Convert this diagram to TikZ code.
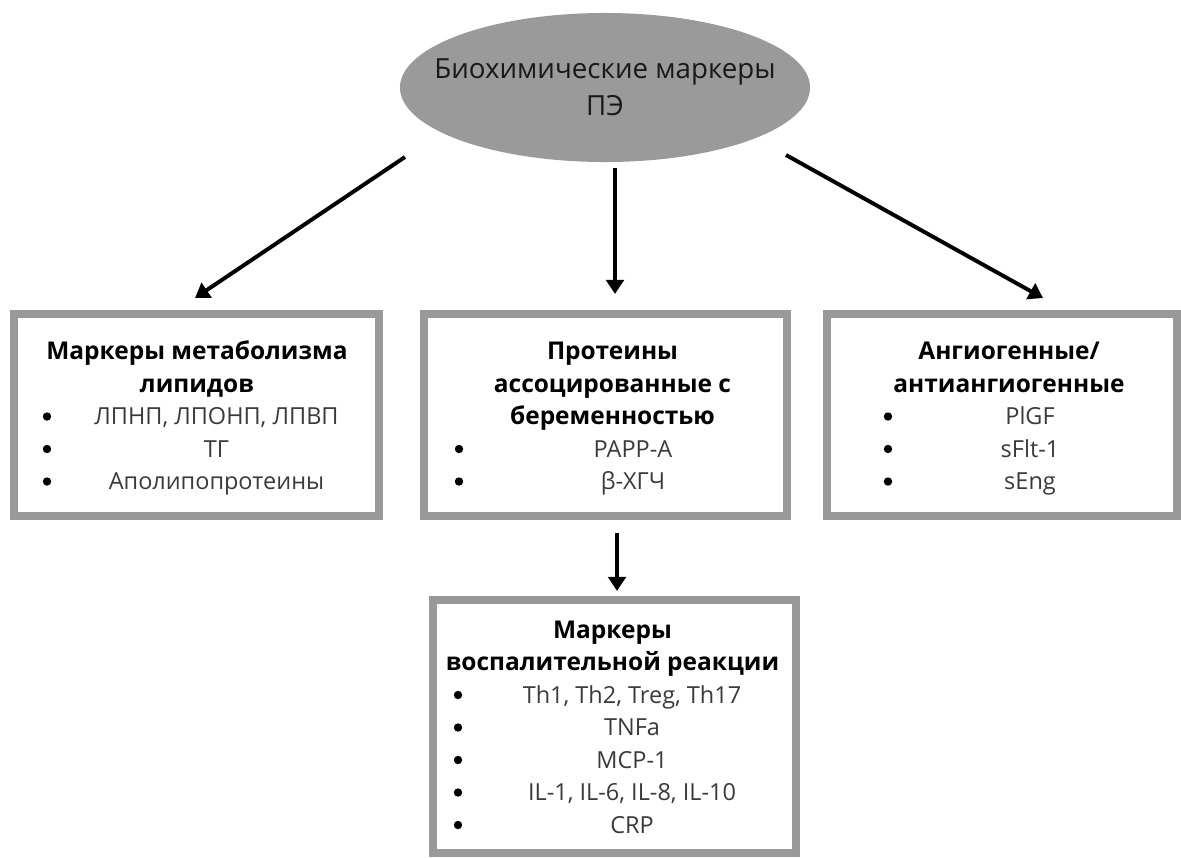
\documentclass[tikz,border=0pt]{standalone}
\usepackage{fontspec}
\setmainfont{Open Sans}
\usetikzlibrary{arrows.meta, shapes.geometric}

\definecolor{framegray}{HTML}{999999}
\definecolor{ovalgray}{HTML}{9A9A9A}
\definecolor{itemgray}{HTML}{3A3A3A}

\tikzset{
	box/.style={draw=framegray, line width=5.7pt, inner sep=0},
	title/.style={anchor=base, inner sep=0, font=\fontsize{17.4}{20}\selectfont\bfseries},
	item/.style={anchor=base, inner sep=0, text=itemgray, font=\fontsize{16.7}{20}\selectfont},
	dot/.style={circle, fill=black, inner sep=0, minimum size=0.21cm},
	arr/.style={line width=2.8pt, -{Triangle[length=10pt, width=12.5pt]}}
}

\begin{document}
\begin{tikzpicture}[x=0.025cm, y=-0.025cm]
	\useasboundingbox (0, 0) rectangle (1181, 857);

	% top oval
	\node [ellipse, fill=ovalgray, inner sep=0, minimum width=10.25cm, minimum height=3.725cm] (top) at (605, 87.5) {};
	\node [align=center, inner sep=0, font=\fontsize{19.7}{26.2}\selectfont, text=black!90] (topText) at (top.center)
		{Биохимические маркеры\\ПЭ};

	% frames
	\node [box, minimum width=9.125cm, minimum height=5.05cm] (lip) at (196.5, 415) {};
	\node [box, minimum width=9.075cm, minimum height=5.05cm] (prot) at (605.5, 415) {};
	\node [box, minimum width=8.75cm, minimum height=5.05cm] (ang) at (1002, 415) {};
	\node [box, minimum width=9.075cm, minimum height=6.325cm] (infl) at (614.5, 726.5) {};

	% arrows
	\coordinate (aL) at (405, 157);
	\coordinate (tL) at (195, 298);
	\coordinate (aM) at (615, 168);
	\coordinate (aR) at (786, 155);
	\coordinate (tR) at (1043, 298);
	\coordinate (aB) at (617, 533);
	\draw [arr] (aL) -- (tL);
	\draw [arr, shorten >=0.4cm] (aM) -- (aM |- prot.north);
	\draw [arr] (aR) -- (tR);
	\draw [arr, shorten >=0.125cm] (aB) -- (aB |- infl.north);

	% lipids
	\node [title] (lipT1) at (197, 359.5) {Маркеры метаболизма};
	\node [title] (lipT2) at (197, 392) {липидов};
	\foreach \txt [count=\i] in {{ЛПНП, ЛПОНП, ЛПВП}, ТГ, Аполипопротеины} {
		\node [dot] (lipD\i) at (47, {416.5+32.5*(\i-1)}) {};
		\node [item] (lipI\i) at (216.5, {424.5+32.5*(\i-1)}) {\txt};
	}

	% proteins
	\node [title] (protT1) at (612.5, 359.5) {Протеины};
	\node [title] (protT2) at (612.5, 392) {ассоцированные с};
	\node [title] (protT3) at (612.5, 424.5) {беременностью};
	\foreach \txt [count=\i] in {PAPP-A, β-ХГЧ} {
		\node [dot] (protD\i) at (459, {449+32.5*(\i-1)}) {};
		\node [item] (protI\i) at (633, {457+32.5*(\i-1)}) {\txt};
	}

	% angiogenic
	\node [title] (angT1) at (1009, 359.5) {Ангиогенные/};
	\node [title] (angT2) at (1009, 392) {антиангиогенные};
	\foreach \txt [count=\i] in {PlGF, sFlt-1, sEng} {
		\node [dot] (angD\i) at (888, {416.5+32.5*(\i-1)}) {};
		\node [item] (angI\i) at (1030, {424.5+32.5*(\i-1)}) {\txt};
	}

	% inflammation
	\node [title] (inflT1) at (612.5, 638) {Маркеры};
	\node [title] (inflT2) at (612.5, 670.5) {воспалительной реакции};
	\foreach \txt [count=\i] in {{Th1, Th2, Treg, Th17}, TNFa, MCP-1, {IL-1, IL-6, IL-8, IL-10}, CRP} {
		\node [dot] (inflD\i) at (458, {695+32.5*(\i-1)}) {};
		\node [item] (inflI\i) at (632, {703+32.5*(\i-1)}) {\txt};
	}
\end{tikzpicture}
\end{document}
